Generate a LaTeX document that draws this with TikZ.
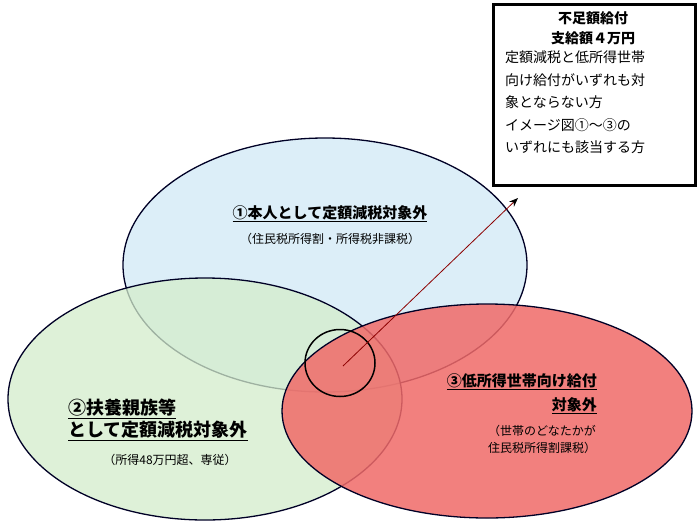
\documentclass[tikz,border=0pt]{standalone}
\usepackage{fontspec}
\setmainfont{Noto Sans CJK JP}
\usetikzlibrary{arrows.meta,shapes.geometric}
\definecolor{bluef}{HTML}{DCEEF8}
\definecolor{greenf}{HTML}{D4EDCB}
\definecolor{redf}{HTML}{F06A68}
\tikzset{ell/.style={draw=black!85!blue, line width=1.3pt},
 lbl/.style={font=\bfseries\fontsize{15}{18}\selectfont, align=center, inner sep=0pt},
 sub/.style={font=\fontsize{12}{17}\selectfont, align=center, inner sep=0pt}}
\begin{document}
\begin{tikzpicture}[x=1pt,y=-1pt]
\useasboundingbox (0,0) rectangle (700,530);
\fill[white] (0,0) rectangle (700,530);
\path[ell, fill=bluef] (325,265) ellipse[x radius=202, y radius=127];
\path[ell, fill=greenf, fill opacity=0.75] (205,399) ellipse[x radius=197, y radius=121];
\path[ell, fill=redf, fill opacity=0.85] (487,411) ellipse[x radius=205, y radius=107];
\node[draw, line width=1.5pt, ellipse, minimum width=70, minimum height=67, inner sep=0pt] (c) at (340,363) {};
\coordinate (s) at (343,366);
\node[draw, line width=3pt, fill=white, minimum width=202, minimum height=181, inner sep=0pt, anchor=north west] (box) at (492,3) {};
\coordinate (t) at (518,198);
\draw[red!55!black, line width=0.8pt, -{Stealth[length=9pt,width=7pt,black]}] (s) -- (t);
\node[font=\fontsize{14}{20}\selectfont, align=center, anchor=north] at (593,8) {\textbf{不足額給付}\\\textbf{支給額４万円}};
\node[font=\fontsize{14}{22.5}\selectfont, align=left, anchor=north west, inner sep=0pt] at (505,51) {定額減税と低所得世帯\\向け給付がいずれも対\\象とならない方\\イメージ図①～③の\\いずれにも該当する方};
\node[lbl] (l1) at (330,214) {\underline{①本人として定額減税対象外}};
\node[sub] (s1) at (330,239) {（住民税所得割・所得税非課税）};
\node[lbl, font=\bfseries\fontsize{18}{22}\selectfont, align=left, anchor=west] (l2) at (68,420) {\underline{②扶養親族等}\\\underline{として定額減税対象外}};
\node[sub] (s2) at (170,460) {（所得48万円超、専従）};
\node[lbl, font=\bfseries\fontsize{15}{24}\selectfont, align=right, anchor=north east] (l3) at (597,373) {\underline{③低所得世帯向け給付}\\\underline{対象外}};
\node[sub, anchor=north] (s3) at (542,425) {（世帯のどなたかが\\住民税所得割課税）};
\end{tikzpicture}
\end{document}
